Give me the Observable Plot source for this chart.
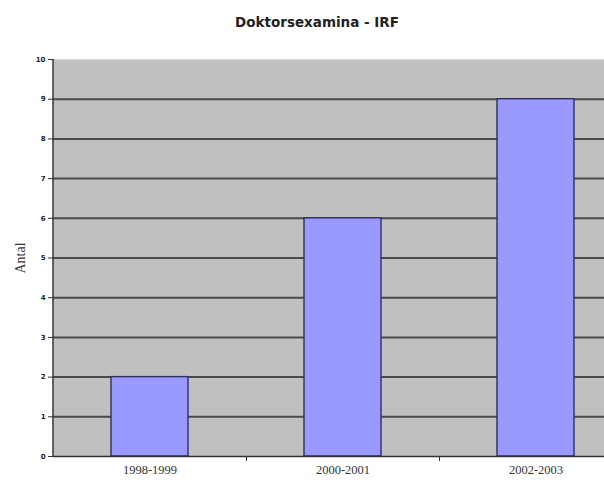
<!DOCTYPE html>
<html>
<head>
<meta charset="utf-8">
<script src="https://cdn.jsdelivr.net/npm/d3@7"></script>
<script src="https://cdn.jsdelivr.net/npm/@observablehq/plot@0.6"></script>
<style>
  html, body { margin: 0; padding: 0; background: #ffffff; }
  #chart svg { display: block; }
</style>
</head>
<body>
<div id="chart"></div>
<script>
// Doctoral degrees at IRF per two-year period
const periods = ["1998-1999", "2000-2001", "2002-2003"];
const degrees = [2, 6, 9];
const yTicks = [0, 1, 2, 3, 4, 5, 6, 7, 8, 9, 10];
const chartTitle = "Doktorsexamina - IRF";
const yTitle = "Antal";

const data = periods.map((p, i) => ({period: p, antal: degrees[i]}));

const W = 604, H = 480;
const left = 53, right = 632;       // category band extends past the right edge
const step = (right - left) / periods.length;

const chart = Plot.plot({
  width: W,
  height: H,
  marginTop: 59,
  marginBottom: 24,
  marginLeft: left,
  marginRight: 0,
  style: {background: "#ffffff", overflow: "visible"},
  x: {
    type: "band",
    domain: periods,
    range: [left, right],
    paddingInner: 0.6,
    paddingOuter: 0.3,
    label: null
  },
  y: {domain: [0, 10], label: null},
  marks: [
    Plot.frame({fill: "#c0c0c0", stroke: "#d8d8d8"}),
    Plot.ruleY(yTicks.filter(d => d > 0 && d < 10), {stroke: "#4a4a4a", strokeWidth: 2}),
    Plot.barY(data, {x: "period", y: "antal", fill: "#9999ff", stroke: "#2e2e5e", strokeWidth: 1.4}),
    Plot.ruleY([0], {stroke: "#333333", strokeWidth: 1.5}),
    // left axis ticks and labels
    Plot.axisY({
      ticks: yTicks,
      tickSize: 5,
      tickPadding: 3,
      fontSize: 7,
      fontWeight: "bold",
      fontFamily: "DejaVu Sans, sans-serif",
      stroke: "#333333",
      fill: "#222222",
      label: null
    }),
    Plot.axisY({
      ticks: [],
      label: yTitle,
      labelAnchor: "center",
      labelArrow: "none",
      labelOffset: 38,
      fontSize: 14,
      fontFamily: "Liberation Serif, serif",
      fill: "#333333"
    }),
    // category labels
    Plot.axisX({
      tickSize: 0,
      tickPadding: 9,
      fontSize: 12.5,
      fontFamily: "Liberation Serif, serif",
      fill: "#333333",
      label: null
    }),
    // tick marks between categories
    Plot.axisX({
      tickSize: 5,
      text: null,
      dx: step / 2,
      stroke: "#333333",
      label: null
    }),
    // chart title
    Plot.text([chartTitle], {
      frameAnchor: "top",
      dy: -42,
      dx: -12,
      text: d => d,
      fontSize: 13.5,
      fontWeight: "bold",
      fontFamily: "DejaVu Sans, sans-serif",
      fill: "#222222"
    })
  ]
});

// left axis line along the plot frame
const svg = d3.select(chart);
svg.append("line")
  .attr("x1", left).attr("x2", left)
  .attr("y1", 59).attr("y2", H - 24)
  .attr("stroke", "#333333").attr("stroke-width", 1.5);

document.getElementById("chart").appendChild(chart);
</script>
</body>
</html>
